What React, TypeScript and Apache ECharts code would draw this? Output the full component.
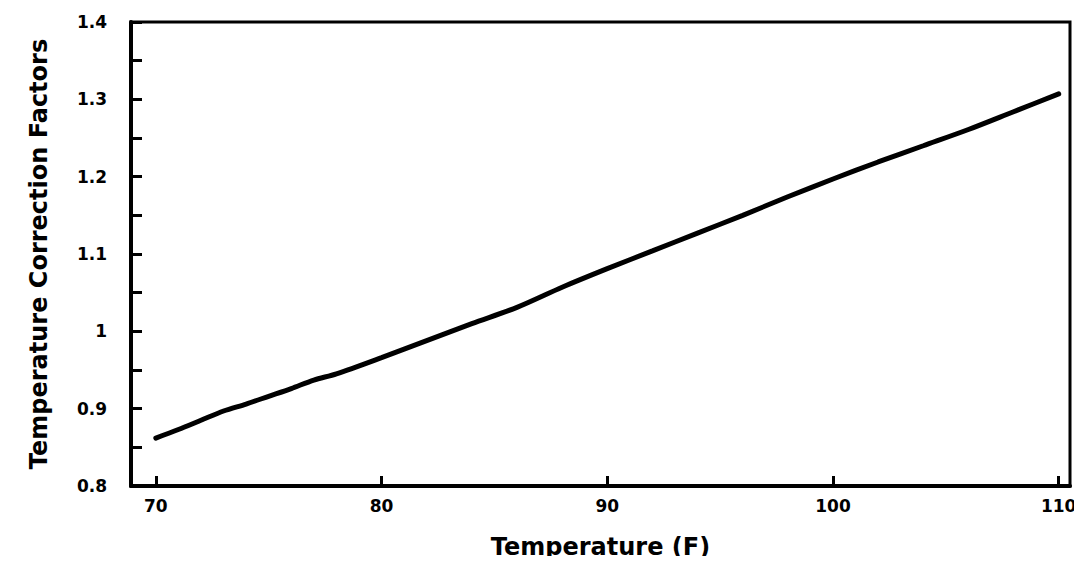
import React, { useEffect, useRef } from "react";
import * as echarts from "echarts";

// Temperature (°F) and the matching correction factor
const temperatures = [70, 71, 72, 73, 74, 75, 76, 77, 78, 80, 82, 84, 86, 88, 90, 92, 94, 96, 98, 100, 102, 104, 106, 108, 110];
const correctionFactors = [
  0.862, 0.873, 0.885, 0.897, 0.906, 0.916, 0.926, 0.937, 0.945, 0.966, 0.988, 1.01, 1.031, 1.057, 1.081,
  1.104, 1.127, 1.15, 1.174, 1.197, 1.219, 1.24, 1.261, 1.284, 1.307,
];

const xTickValues = [70, 80, 90, 100, 110];
const yLabelValues = [0.8, 0.9, 1.0, 1.1, 1.2, 1.3, 1.4];
const yTickValues = [0.8, 0.85, 0.9, 0.95, 1.0, 1.05, 1.1, 1.15, 1.2, 1.25, 1.3, 1.35, 1.4];

const FONT = "DejaVu Sans";

export default function App() {
  const ref = useRef<HTMLDivElement>(null);

  useEffect(() => {
    if (!ref.current) return;
    const chart = echarts.init(ref.current, null, { renderer: "svg" });
    chart.setOption({
      animation: false,
      backgroundColor: "#ffffff",
      grid: {
        left: 123,
        right: 12,
        top: 14,
        bottom: 78,
        show: true,
        borderColor: "#000",
        borderWidth: 3,
        containLabel: false,
        outerBoundsMode: "none",
      },
      xAxis: {
        type: "value",
        min: 68.9,
        max: 110.5,
        name: "Temperature (F)",
        nameLocation: "middle",
        nameGap: 49,
        nameTextStyle: { fontFamily: FONT, fontWeight: "bold", fontSize: 24, color: "#000" },
        splitLine: { show: false },
        axisLine: { show: true, onZero: false, lineStyle: { color: "#000", width: 4 } },
        axisTick: {
          show: true,
          inside: true,
          length: 10,
          customValues: xTickValues,
          lineStyle: { color: "#000", width: 3 },
        },
        axisLabel: {
          customValues: xTickValues,
          margin: 11,
          fontFamily: FONT,
          fontWeight: "bold",
          fontSize: 17,
          color: "#000",
        },
      },
      yAxis: {
        type: "value",
        min: 0.8,
        max: 1.4,
        name: "Temperature Correction Factors",
        nameLocation: "middle",
        nameRotate: 90,
        nameGap: 80,
        nameTextStyle: { fontFamily: FONT, fontWeight: "bold", fontSize: 24, color: "#000" },
        splitLine: { show: false },
        axisLine: { show: true, onZero: false, lineStyle: { color: "#000", width: 4 } },
        axisTick: {
          show: true,
          inside: true,
          length: 11,
          customValues: yTickValues,
          lineStyle: { color: "#000", width: 3 },
        },
        axisLabel: {
          customValues: yLabelValues,
          margin: 24,
          fontFamily: FONT,
          fontWeight: "bold",
          fontSize: 17,
          color: "#000",
          formatter: (v: number) => String(parseFloat(v.toFixed(1))),
        },
      },
      series: [
        {
          type: "line",
          data: temperatures.map((t, i) => [t, correctionFactors[i]]),
          showSymbol: false,
          smooth: 0.3,
          lineStyle: { color: "#000", width: 5, cap: "round" },
        },
      ],
    });
    return () => chart.dispose();
  }, []);

  return <div ref={ref} style={{ width: 1074, height: 556, marginBottom: -8 }} />;
}
